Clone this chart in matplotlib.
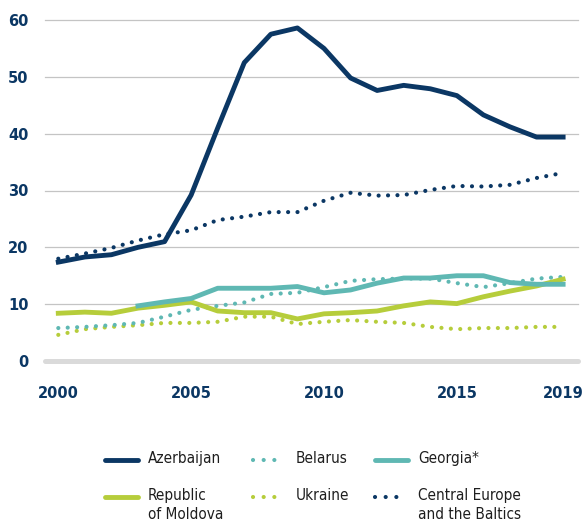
import matplotlib
matplotlib.use('Agg')
import matplotlib.pyplot as plt

# values
years = list(range(2000, 2020))
azerbaijan = [17.4, 18.3, 18.7, 20.0, 21.0, 29.2, 41.0, 52.5, 57.5, 58.6,
              55.0, 49.8, 47.6, 48.5, 47.9, 46.7, 43.3, 41.2, 39.4, 39.4]
belarus = [5.8, 6.0, 6.3, 6.7, 7.8, 9.0, 9.7, 10.3, 11.8, 12.0,
           13.0, 14.1, 14.4, 14.5, 14.5, 13.7, 13.0, 13.7, 14.5, 14.8]
georgia_years = list(range(2003, 2020))
georgia = [9.7, 10.4, 11.0, 12.8, 12.8, 12.8, 13.1,
           12.0, 12.5, 13.7, 14.6, 14.6, 15.0, 15.0, 13.8, 13.5, 13.5]
moldova = [8.4, 8.6, 8.4, 9.3, 9.8, 10.4, 8.8, 8.5, 8.5, 7.4,
           8.3, 8.5, 8.8, 9.7, 10.4, 10.1, 11.3, 12.3, 13.2, 14.4]
ukraine = [4.6, 5.6, 6.0, 6.3, 6.7, 6.7, 6.9, 7.8, 7.8, 6.5,
           6.9, 7.2, 6.9, 6.7, 6.0, 5.6, 5.8, 5.8, 6.0, 6.0]
ceb = [18.0, 18.9, 19.9, 21.2, 22.3, 23.0, 24.8, 25.4, 26.2, 26.2,
       28.2, 29.6, 29.1, 29.2, 30.1, 30.8, 30.7, 31.0, 32.2, 33.1]
xticks = [2000, 2005, 2010, 2015, 2019]
yticks = [0, 10, 20, 30, 40, 50, 60]

navy = '#0b3764'
teal = '#5fb8b3'
green = '#b6cd3b'
dots = (0, (0.01, 2.25))

fig = plt.figure(figsize=(5.85, 5.27), dpi=100)
ax = fig.add_axes([45/585, 1-361/527, (578-45)/585, (361-20)/527])

# grid
for v in yticks[1:]:
    ax.axhline(v, color='#c4c4c4', lw=0.9, zorder=1, clip_on=False)
ax.axhline(0, color='#dadada', lw=3.6, solid_capstyle='round', zorder=1, clip_on=False)

ax.plot(years, ukraine, color=green, lw=3, ls=dots, dash_capstyle='round', zorder=3)
ax.plot(years, belarus, color=teal, lw=3, ls=dots, dash_capstyle='round', zorder=3)
ax.plot(years, moldova, color=green, lw=3.5, zorder=4)
ax.plot(georgia_years, georgia, color=teal, lw=3.5, zorder=4)
ax.plot(years, ceb, color=navy, lw=3, ls=dots, dash_capstyle='round', zorder=5)
ax.plot(years, azerbaijan, color=navy, lw=3.5, zorder=6)

ax.set_xlim(1999.5, 2019.56)
ax.set_ylim(0, 60)
ax.set_xticks(xticks)
ax.set_yticks(yticks)
ax.tick_params(length=0, labelsize=10.5, labelcolor=navy)
ax.tick_params(axis='x', pad=18)
ax.tick_params(axis='y', pad=12)
for lab in ax.get_xticklabels() + ax.get_yticklabels():
    lab.set_fontweight('bold')
for s in ax.spines.values():
    s.set_visible(False)

# legend drawn in pixel coordinates
lg = fig.add_axes([0, 0, 1, 1], zorder=-1)
lg.set_xlim(0, 585)
lg.set_ylim(527, 0)
lg.axis('off')
entries = [
    ('Azerbaijan', navy, '-', 105, 460),
    ('Belarus', teal, dots, 253, 460),
    ('Georgia*', teal, '-', 375, 460),
    ('Republic\nof Moldova', green, '-', 105, 497),
    ('Ukraine', green, dots, 253, 497),
    ('Central Europe\nand the Baltics', navy, dots, 375, 497),
]
for name, c, ls, x0, y0 in entries:
    if ls == '-':
        lg.plot([x0, x0+33], [y0, y0], color=c, lw=3.5, solid_capstyle='round')
    else:
        lg.plot([x0, x0+32], [y0, y0], color=c, lw=3, ls=(0, (0.01, 2.55)),
                dash_capstyle='round')
    lg.text(x0+43, y0-9, name, fontsize=11, family='DejaVu Sans',
            fontstretch='condensed', color='#1e1e1e',
            va='top', ha='left', linespacing=1.3)

fig.savefig('out.png', dpi=100)
